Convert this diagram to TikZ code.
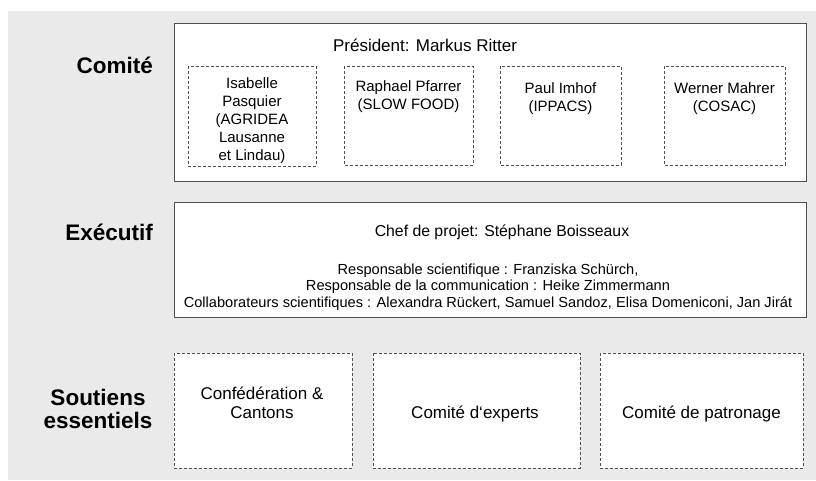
\documentclass[tikz,border=0pt]{standalone}
\usepackage{fontspec}
\setmainfont{Liberation Sans}
\definecolor{bggray}{HTML}{EAEAEA}
\definecolor{edgegray}{HTML}{505050}
\begin{document}
\begin{tikzpicture}[x=1pt,y=-1pt,
  solidbox/.style={draw=edgegray,line width=0.9pt,fill=white},
  dashbox/.style={draw=edgegray,line width=0.8pt,dash pattern=on 3pt off 2pt,fill=white},
  lbl/.style={font=\fontsize{22.5}{23}\selectfont\bfseries,align=center,inner sep=0pt,anchor=east},
  bigtxt/.style={font=\fontsize{17}{19}\selectfont,inner sep=0pt},
  smalltxt/.style={font=\fontsize{15}{18}\selectfont,align=center,inner sep=0pt},
  suptxt/.style={font=\fontsize{17}{19}\selectfont,align=center,inner sep=0pt},
  exectxt/.style={font=\fontsize{14.6}{16.5}\selectfont,align=center,inner sep=0pt}]
\useasboundingbox (0,0) rectangle (816,480);
\fill[bggray] (8,11) rectangle (816,480);

% Comite
\draw[solidbox] (174,23) rectangle (806,181);
\node[bigtxt] (pres) at (425,45) {Président: Markus Ritter};
\draw[dashbox] (188,66) rectangle (316,166);
\draw[dashbox] (344,66) rectangle (473,165);
\draw[dashbox] (500,66) rectangle (621,165);
\draw[dashbox] (664,66) rectangle (785,165);
\node[smalltxt,anchor=north] (isa) at (252,77) {Isabelle\\Pasquier\\(AGRIDEA\\Lausanne\\et Lindau)};
\node[smalltxt,anchor=north] (rap) at (408.5,80) {Raphael Pfarrer\\(SLOW FOOD)};
\node[smalltxt,anchor=north] (pau) at (560.5,82) {Paul Imhof\\(IPPACS)};
\node[smalltxt,anchor=north] (wer) at (724.5,82) {Werner Mahrer\\(COSAC)};

% Executif
\draw[solidbox] (174,202) rectangle (806,317);
\node[bigtxt,font=\fontsize{15.8}{19}\selectfont] (chef) at (502,232) {Chef de projet: Stéphane Boisseaux};
\node[exectxt,anchor=north] (resp) at (488,263.5) {Responsable scientifique : Franziska Schürch,\\Responsable de la communication : Heike Zimmermann\\Collaborateurs scientifiques : Alexandra Rückert, Samuel Sandoz, Elisa Domeniconi, Jan Jirát};

% Soutiens
\draw[dashbox] (174,353) rectangle (352,468);
\draw[dashbox] (373,353) rectangle (580,468);
\draw[dashbox] (600,353) rectangle (803,468);
\node[suptxt] (conf) at (262,403) {Confédération \&\\Cantons};
\node[suptxt] (exp) at (475,414) {Comité d‘experts};
\node[suptxt] (pat) at (701.5,414) {Comité de patronage};

% labels
\node[lbl] (lcom) at (153,65) {Comité};
\node[lbl] (lexe) at (153,232) {Exécutif};
\node[lbl,anchor=center] (lsou) at (98,408.5) {Soutiens\\essentiels};
\end{tikzpicture}
\end{document}
